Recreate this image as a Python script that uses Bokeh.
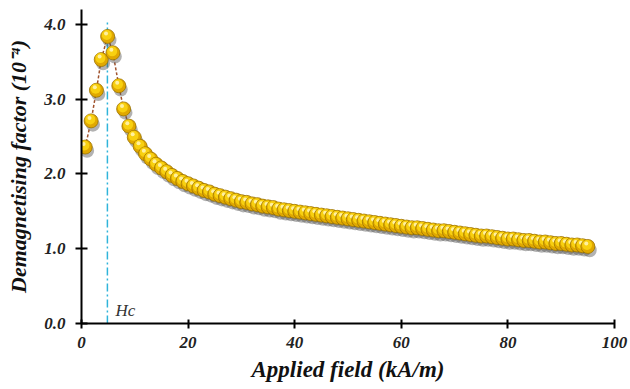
from bokeh.plotting import figure
from bokeh.embed import file_html
from bokeh.resources import INLINE
from bokeh.models import ColumnDataSource, FixedTicker, NumeralTickFormatter, Range1d
from bokeh.transform import dodge
from bokeh.core.properties import value

# Applied field (kA/m)
field = [0.7, 1.8, 2.8, 3.7, 4.9, 5.9, 7.0, 7.9, 8.9, 9.9,
         11, 12, 13, 14, 15, 16, 17, 18, 19, 20,
         21, 22, 23, 24, 25, 26, 27, 28, 29, 30,
         31, 32, 33, 34, 35, 36, 37, 38, 39, 40,
         41, 42, 43, 44, 45, 46, 47, 48, 49, 50,
         51, 52, 53, 54, 55, 56, 57, 58, 59, 60,
         61, 62, 63, 64, 65, 66, 67, 68, 69, 70,
         71, 72, 73, 74, 75, 76, 77, 78, 79, 80,
         81, 82, 83, 84, 85, 86, 87, 88, 89, 90,
         91, 92, 93, 94, 95]
# Demagnetising factor (1e-4)
demag = [2.36, 2.71, 3.12, 3.53, 3.84, 3.62, 3.18, 2.87, 2.64, 2.49,
         2.37, 2.27, 2.20, 2.13, 2.08, 2.03, 1.98, 1.94, 1.90, 1.87,
         1.84, 1.81, 1.78, 1.76, 1.73, 1.71, 1.69, 1.67, 1.65, 1.63,
         1.62, 1.60, 1.59, 1.57, 1.56, 1.55, 1.53, 1.52, 1.51, 1.50,
         1.49, 1.48, 1.47, 1.46, 1.45, 1.44, 1.43, 1.42, 1.41, 1.40,
         1.39, 1.38, 1.37, 1.36, 1.35, 1.34, 1.33, 1.32, 1.31, 1.30,
         1.29, 1.28, 1.28, 1.27, 1.26, 1.25, 1.24, 1.24, 1.23, 1.22,
         1.21, 1.20, 1.19, 1.18, 1.17, 1.17, 1.16, 1.15, 1.14, 1.13,
         1.13, 1.12, 1.11, 1.11, 1.10, 1.09, 1.09, 1.08, 1.07, 1.07,
         1.06, 1.05, 1.05, 1.04, 1.03]

hc_field = 4.86
hc_label = "Hc"
x_ticks = [0, 20, 40, 60, 80, 100]
y_ticks = [0.0, 1.0, 2.0, 3.0, 4.0]

FONT = "'Liberation Serif', 'Times New Roman', serif"

p = figure(width=628, height=387, output_backend="svg", toolbar_location=None,
           x_range=Range1d(0, 100), y_range=Range1d(0, 4.2),
           min_border_left=81, min_border_right=14, min_border_top=9, min_border_bottom=64)
p.outline_line_color = None
p.grid.visible = False
p.background_fill_color = "white"

# Hc marker
p.segment(x0=[hc_field], y0=[0], x1=[hc_field], y1=[4.06],
          line_color="#2FB4DA", line_width=1.5, line_dash="8 3 2 3")
p.text(x=[hc_field + 1.5], y=[0.05], text=[hc_label], text_font=value(FONT),
       text_font_style="italic", text_font_size="17px", text_color="#333333",
       text_baseline="bottom", text_align="left",
       background_fill_color="white")

# dashed connecting line
p.line(field, demag, line_color="#A0522D", line_width=1.5, line_dash="3 2")

# 3D-looking balls, drawn one at a time so that later ones overlap earlier ones
for i in range(len(field)):
    src = ColumnDataSource(dict(x=[field[i]], y=[demag[i]]))
    p.scatter(x=dodge("x", 0.35, range=p.x_range), y=dodge("y", -0.05, range=p.y_range),
              source=src, size=14, fill_color="#555555", fill_alpha=0.45, line_color=None)
    p.scatter(x="x", y="y", source=src, size=14, fill_color="#E0A800",
              line_color="#9C7400", line_width=0.8)
    p.scatter(x=dodge("x", -0.15, range=p.x_range), y=dodge("y", 0.02, range=p.y_range),
              source=src, size=10, fill_color="#F8D010", line_color=None)
    p.scatter(x=dodge("x", -0.3, range=p.x_range), y=dodge("y", 0.04, range=p.y_range),
              source=src, size=4, fill_color="#FFF0A0", line_color=None)

for ax in (p.xaxis[0], p.yaxis[0]):
    ax.axis_line_width = 2
    ax.axis_line_color = "black"
    ax.major_tick_line_width = 2
    ax.major_tick_line_color = "black"
    ax.minor_tick_line_color = None
    ax.major_label_text_font = FONT
    ax.major_label_text_font_style = "bold italic"
    ax.major_label_text_font_size = "17px"
    ax.major_label_text_color = "#222222"
    ax.axis_label_text_font = FONT
    ax.axis_label_text_font_style = "bold italic"
    ax.axis_label_text_font_size = "22px"
    ax.axis_label_text_color = "#111111"

p.xaxis.axis_label_text_font_size = "23px"
p.xaxis.ticker = FixedTicker(ticks=x_ticks)
p.yaxis.ticker = FixedTicker(ticks=y_ticks)
p.yaxis.formatter = NumeralTickFormatter(format="0.0")
p.xaxis.major_tick_in = 4
p.xaxis.major_tick_out = 5
p.yaxis.major_tick_in = 6
p.yaxis.major_tick_out = 6
p.xaxis.major_label_standoff = 8
p.yaxis.major_label_standoff = 10
p.xaxis.axis_label = "Applied field (kA/m)"
p.yaxis.axis_label = "Demagnetising factor (10\u207b\u2074)"
p.xaxis.axis_label_standoff = 6
p.yaxis.axis_label_standoff = 10

open("out.html", "w").write(file_html(p, INLINE))
